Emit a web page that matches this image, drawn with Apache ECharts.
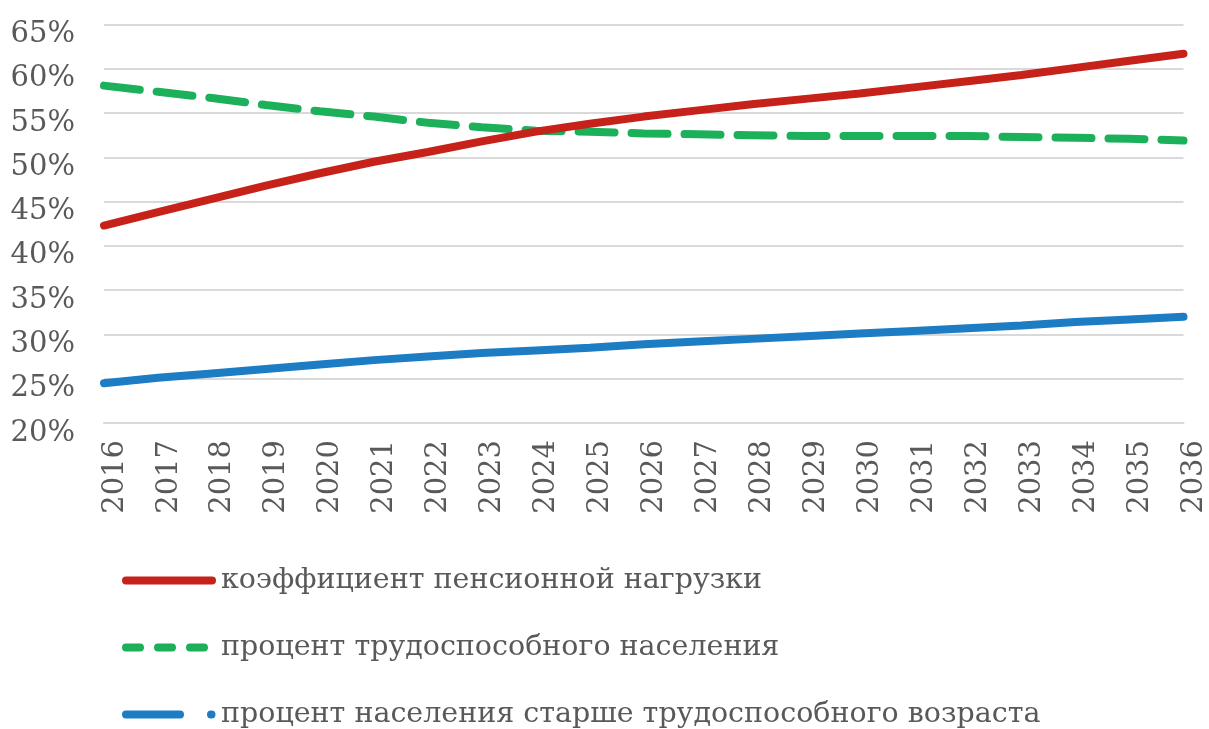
<!DOCTYPE html>
<html>
<head>
<meta charset="utf-8">
<script src="https://cdn.jsdelivr.net/npm/echarts@6/dist/echarts.min.js"></script>
<style>
html,body{margin:0;padding:0;background:#fff;}
#chart{width:1209px;height:729px;}
</style>
</head>
<body>
<div id="chart"></div>
<script>
const years = ['2016','2017','2018','2019','2020','2021','2022','2023','2024','2025','2026','2027','2028','2029','2030','2031','2032','2033','2034','2035','2036'];
const pensionLoad = [42.3,43.8,45.3,46.8,48.2,49.5,50.6,51.8,52.9,53.8,54.6,55.3,56.0,56.6,57.2,57.9,58.6,59.3,60.1,60.9,61.7];
const workingAge = [58.1,57.4,56.7,55.9,55.2,54.6,53.9,53.4,53.0,52.9,52.7,52.6,52.5,52.4,52.4,52.4,52.4,52.3,52.2,52.1,51.9];
const overWorkingAge = [24.5,25.1,25.6,26.1,26.6,27.1,27.5,27.9,28.2,28.5,28.9,29.2,29.5,29.8,30.1,30.4,30.7,31.0,31.4,31.7,32.0];
const names = ['коэффициент пенсионной нагрузки','процент трудоспособного населения','процент населения старше трудоспособного возраста'];
const colors = ['#C6221A','#1DB05A','#1C7CC4'];

const font = 'DejaVu Serif';
const chart = echarts.init(document.getElementById('chart'));
chart.setOption({
  animation:false,
  backgroundColor:'#fff',
  grid:{left:104, right:16, top:24.5, bottom:306, containLabel:false},
  xAxis:{
    type:'category', data:years, boundaryGap:false,
    axisLine:{show:true, lineStyle:{color:'#D9D9D9', width:2}},
    axisTick:{show:false},
    axisLabel:{rotate:90, margin:17, color:'#595959', fontFamily:font, fontSize:29, verticalAlign:'top', lineHeight:22},
    splitLine:{show:false}
  },
  yAxis:{
    type:'value', min:20, max:65, interval:5,
    axisLine:{show:false}, axisTick:{show:false},
    axisLabel:{formatter:'{value}%', margin:29, color:'#595959', fontFamily:font, fontSize:29, verticalAlign:'top', lineHeight:20},
    splitLine:{lineStyle:{color:'#D9D9D9', width:2}}
  },
  legend:{
    orient:'vertical', left:122, top:566, height:200, padding:0, itemWidth:86, itemHeight:14, itemGap:38,
    textStyle:{color:'#595959', fontFamily:font, fontSize:28.5, padding:[0,0,0,4]},
    itemStyle:{opacity:0},
    data:[
      {name:names[0], itemStyle:{opacity:0}, lineStyle:{color:colors[0], width:8, cap:'round', type:'solid'}},
      {name:names[1], itemStyle:{opacity:0}, lineStyle:{color:colors[1], width:8, cap:'round', type:[14,18]}},
      {name:names[2], itemStyle:{opacity:0}, lineStyle:{color:colors[2], width:8, cap:'round', type:[54,31,0.5,200]}}
    ]
  },
  series:[
    {name:names[0], type:'line', data:pensionLoad, symbol:'none', lineStyle:{color:colors[0], width:8, cap:'round'}, itemStyle:{color:colors[0]}, z:3},
    {name:names[1], type:'line', data:workingAge, symbol:'none', lineStyle:{color:colors[1], width:8, cap:'round', type:[36,17]}, itemStyle:{color:colors[1]}, z:2},
    {name:names[2], type:'line', data:overWorkingAge, symbol:'none', lineStyle:{color:colors[2], width:8, cap:'round'}, itemStyle:{color:colors[2]}, z:2}
  ]
});
</script>
</body>
</html>
